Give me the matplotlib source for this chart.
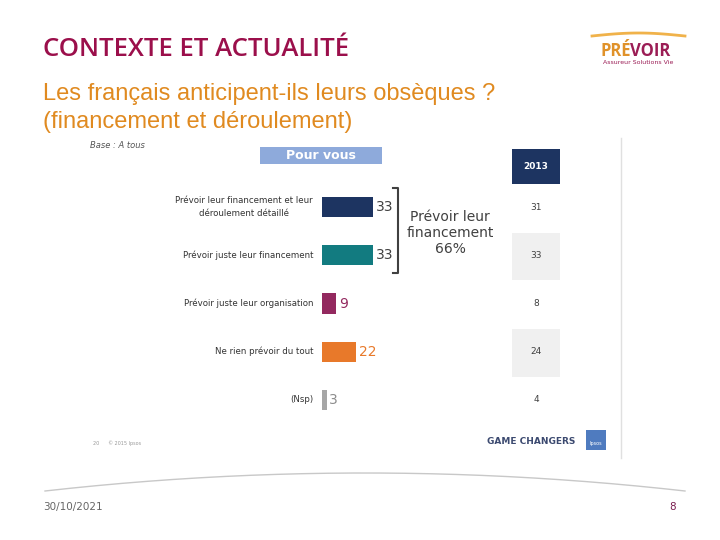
import matplotlib
matplotlib.use("Agg")
import matplotlib.pyplot as plt
import numpy as np
from matplotlib.patches import Rectangle

categories = ["Prévoir leur financement et leur\ndéroulement détaillé",
              "Prévoir juste leur financement",
              "Prévoir juste leur organisation",
              "Ne rien prévoir du tout",
              "(Nsp)"]
values_2015 = [33, 33, 9, 22, 3]
values_2013 = [31, 33, 8, 24, 4]
bar_colors = ["#1d3461", "#127b80", "#93295f", "#e8792a", "#a6a6a6"]
label_colors = ["#404040", "#404040", "#93295f", "#e8792a", "#8c8c8c"]
group_total = 66

W, H = 720, 540
fig = plt.figure(figsize=(7.2, 5.4), dpi=100)
fig.patch.set_facecolor("white")

# overlay axes in pixel coordinates for decorations
ov = fig.add_axes([0, 0, 1, 1])
ov.set_xlim(0, W)
ov.set_ylim(H, 0)
ov.axis("off")

# Title
ov.text(43, 50, "CONTEXTE ET ACTUALITÉ", fontsize=18.5, color="#9b0f4b",
        family="Open Sans", fontweight="semibold", va="center", ha="left")
ov.text(43, 94, "Les français anticipent-ils leurs obsèques ?", fontsize=17,
        color="#e08a20", family="Liberation Sans", va="center", ha="left")
ov.text(43, 122, "(financement et déroulement)", fontsize=17,
        color="#e08a20", family="Liberation Sans", va="center", ha="left")

# Logo
t = np.linspace(0, 1, 50)
ov.plot(592 + 93 * t, 36 - 3 * np.sin(np.pi * t), color="#f0b24a", lw=2)
ov.text(600, 51, "PRÉ", fontsize=12, color="#e0922a", fontweight="bold",
        family="Open Sans", va="center", ha="left")
ov.text(630, 51, "VOIR", fontsize=12, color="#9b1d55", fontweight="bold",
        family="Open Sans", va="center", ha="left")
ov.text(638, 63, "Assureur Solutions Vie", fontsize=4.5, color="#9b1d55",
        va="center", ha="center")

# Base
ov.text(90, 146, "Base : A tous", fontsize=6, style="italic", color="#555555",
        va="center", ha="left")

# Pour vous header
ov.add_patch(Rectangle((260, 147), 122, 17, color="#8eaadb", lw=0))
ov.text(321, 155.5, "Pour vous", fontsize=9, color="white", fontweight="bold",
        va="center", ha="center")

# 2013 column
ov.add_patch(Rectangle((512, 149), 48, 35, color="#1d3461", lw=0))
ov.text(536, 166.5, "2013", fontsize=6.5, color="white", fontweight="bold",
        va="center", ha="center")
ov.add_patch(Rectangle((512, 233), 48, 47, color="#f0f0f0", lw=0))
ov.add_patch(Rectangle((512, 329), 48, 48, color="#f0f0f0", lw=0))

# right separator line
ov.plot([621, 621], [138, 458], color="#e0e0e0", lw=1)

# Bracket
ov.plot([393, 398, 398, 393], [188, 188, 273, 273], color="#404040", lw=1.5)
ov.text(450, 233, "Prévoir leur\nfinancement\n%d%%" % group_total, fontsize=10,
        color="#404040", va="center", ha="center", linespacing=1.2)

# Footer of embedded slide
ov.text(93, 443, "20      © 2015 Ipsos", fontsize=3.5, color="#999999",
        va="center", ha="left")
ov.text(531, 441, "GAME CHANGERS", fontsize=6.5, color="#3c4a70",
        fontweight="bold", va="center", ha="center")
ov.add_patch(Rectangle((586, 430), 20, 20, color="#4f7bbf", lw=0))
ov.text(596, 443, "Ipsos", fontsize=3.5, color="white", va="center", ha="center")

# bottom arc
xs = np.linspace(45, 685, 200)
tt = (xs - 45) / 640
ov.plot(xs, 491 - 72 * tt * (1 - tt), color="#c8c8c8", lw=1)

ov.text(43, 507, "30/10/2021", fontsize=7.5, color="#666666", va="center", ha="left")
ov.text(676, 507, "8", fontsize=7.5, color="#7a1d4f", va="center", ha="right")

# Bars axes
left_px, right_px = 322, 322 + 1.545 * 100
top_px, bot_px = 183, 424
ax = fig.add_axes([left_px / W, 1 - bot_px / H, (right_px - left_px) / W,
                   (bot_px - top_px) / H])
ax.set_xlim(0, 100)
ax.set_ylim(len(categories) - 0.5, -0.5)
ax.axis("off")
ypos = np.arange(len(categories))
ax.barh(ypos, values_2015, height=0.42, color=bar_colors, left=0)
for i, v in enumerate(values_2015):
    ax.text(v + 1.8, i, str(v), fontsize=10, color=label_colors[i],
            va="center", ha="left")
    ax.text(-5.8, i, categories[i], fontsize=6.2, color="#333333",
            va="center", ha="right", multialignment="center", linespacing=1.5)

# 2013 values
ax13 = fig.add_axes([512 / W, 1 - bot_px / H, 48 / W, (bot_px - top_px) / H])
ax13.set_xlim(0, 1)
ax13.set_ylim(len(categories) - 0.5, -0.5)
ax13.axis("off")
for i, v in enumerate(values_2013):
    ax13.text(0.5, i, str(v), fontsize=6.5, color="#404040", va="center", ha="center")

fig.savefig("out.png", dpi=100)
